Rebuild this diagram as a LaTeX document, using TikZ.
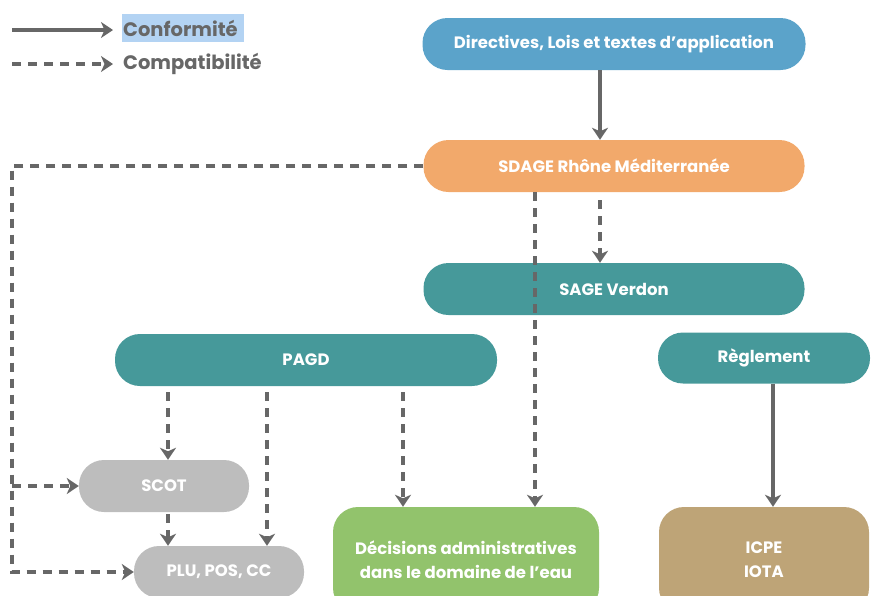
\documentclass[tikz,border=0pt]{standalone}
\usepackage{fontspec}
\setmainfont{Poppins}
\usetikzlibrary{arrows.meta}

\definecolor{bleuDir}{HTML}{5BA3CA}
\definecolor{orangeSdage}{HTML}{F2A96B}
\definecolor{sarcelle}{HTML}{46999A}
\definecolor{grisDoc}{HTML}{BDBDBD}
\definecolor{vertDec}{HTML}{92C36C}
\definecolor{brunIcpe}{HTML}{BEA477}
\definecolor{grisFleche}{HTML}{676767}
\definecolor{surligne}{HTML}{B3D3F3}

\tikzset{
	boite/.style={rounded corners=25pt, minimum height=52pt, inner sep=0pt, text=white, align=center,
		font=\bfseries\fontsize{16.5}{24}\selectfont},
	legende/.style={anchor=west, inner sep=0pt, text=grisFleche, font=\bfseries\fontsize{19.5}{22}\selectfont},
	conf/.style={-{Stealth[length=12pt, width=16pt, inset=3.5pt]}, line width=3.4pt, draw=grisFleche},
	compat/.style={conf, dash pattern=on 9pt off 7pt},
}

\begin{document}
\begin{tikzpicture}[x=1pt, y=-1pt]
	\useasboundingbox (0,0) rectangle (871,595);
	% legende
	\fill[surligne] (122,14) rectangle (244,42);
	\node[legende] (conformite) at (123,28) {Conformité};
	\node[legende] (compatibilite) at (123,64) {Compatibilité};
	\coordinate (legA) at (12,30);
	\coordinate (legB) at (12,64);
	\draw[conf] (legA) -- ([xshift=-10pt]legA -| conformite.west);
	\draw[compat] (legB) -- ([xshift=-10pt]compatibilite.west);

	% boites
	\node[boite, fill=bleuDir, minimum width=383pt] (dir) at (614,44) {Directives, Lois et textes d’application};
	\node[boite, fill=orangeSdage, minimum width=381pt] (sdage) at (614,166) {SDAGE Rhône Méditerranée};
	\node[boite, fill=sarcelle, minimum width=381pt] (sage) at (614,289) {SAGE Verdon};
	\node[boite, fill=sarcelle, minimum width=382pt] (pagd) at (306,360) {PAGD};
	\node[boite, fill=sarcelle, minimum width=212pt, minimum height=51pt] (regl) at (764,358) {Règlement};
	\node[boite, fill=grisDoc, minimum width=170pt] (scot) at (164,486) {SCOT};
	\node[boite, fill=grisDoc, minimum width=170pt] (plu) at (219,572) {PLU, POS, CC};
	\node[boite, fill=vertDec, minimum width=266pt, minimum height=106pt] (dec) at (466,560) {Décisions administratives\\dans le domaine de l’eau};
	\node[boite, fill=brunIcpe, minimum width=210pt, minimum height=106pt] (icpe) at (764,560) {ICPE\\IOTA};

	% liens
	\coordinate (gauche) at (12,0);
	\draw[conf] ([xshift=-14pt]dir.south) -- ([xshift=-14pt]sdage.north);
	\draw[compat, shorten <=8pt] ([xshift=-14pt]sdage.south) -- ([xshift=-14pt]sage.north);
	\draw[compat] ([xshift=-79pt]sdage.south) -- ([xshift=-79pt]sdage.south |- dec.north);
	\draw[compat] (sdage.west) -- (sdage.west -| gauche) |- (plu.west);
	\draw[compat] (scot.west -| gauche) -- (scot.west);
	\draw[compat, shorten <=6pt] ([xshift=-138pt]pagd.south) -- ([xshift=-138pt]pagd.south |- scot.north);
	\draw[compat, shorten <=6pt] ([xshift=-39pt]pagd.south) -- ([xshift=-39pt]pagd.south |- plu.north);
	\draw[compat, shorten <=6pt] ([xshift=97pt]pagd.south) -- ([xshift=97pt]pagd.south |- dec.north);
	\draw[compat, shorten <=2pt] ([xshift=4pt]scot.south) -- ([xshift=4pt]scot.south |- plu.north);
	\draw[conf] ([xshift=9pt]regl.south) -- ([xshift=9pt]regl.south |- icpe.north);
\end{tikzpicture}
\end{document}
